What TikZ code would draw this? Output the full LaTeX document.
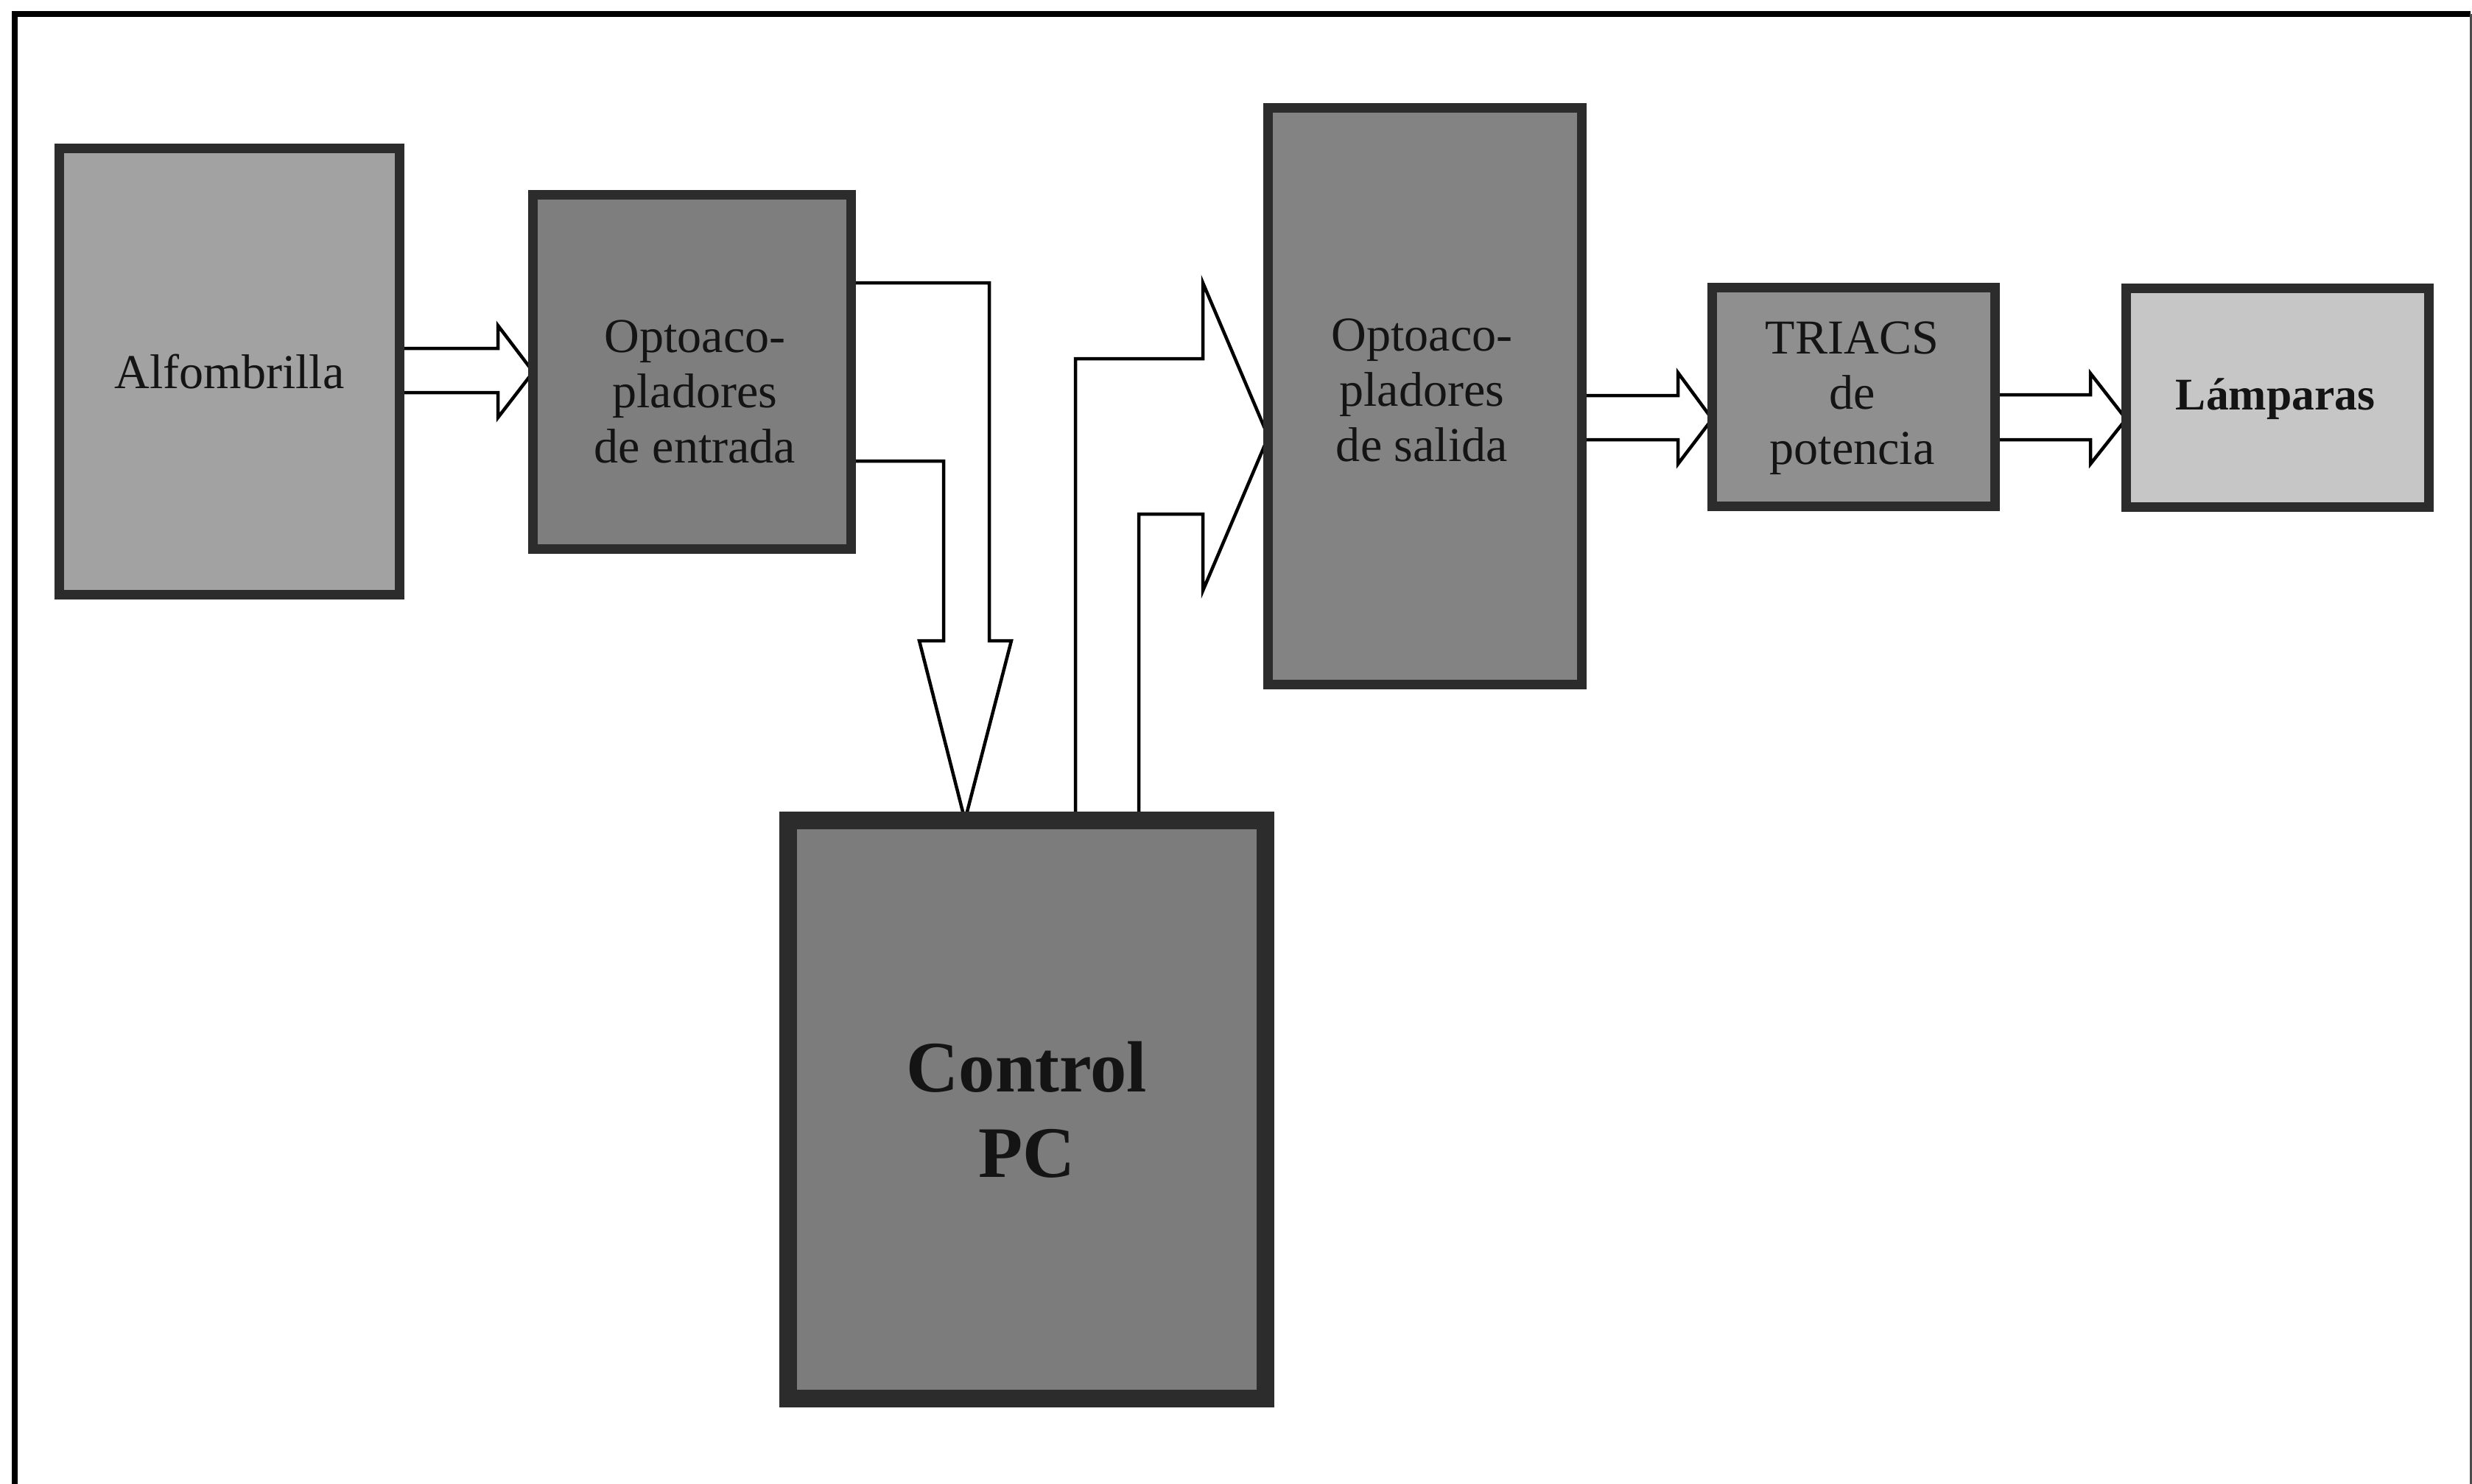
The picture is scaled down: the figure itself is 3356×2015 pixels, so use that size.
\documentclass[tikz,border=0pt]{standalone}
\usepackage{fontspec}
\setmainfont{Liberation Serif}
\usetikzlibrary{backgrounds,calc}
\definecolor{edgegray}{HTML}{2C2C2C}
\definecolor{alfgray}{HTML}{A2A2A2}
\definecolor{oingray}{HTML}{7E7E7E}
\definecolor{outgray}{HTML}{838383}
\definecolor{trigray}{HTML}{8F8F8F}
\definecolor{lamgray}{HTML}{C6C6C6}
\definecolor{pcgray}{HTML}{7C7C7C}
\definecolor{txt}{HTML}{141414}
\tikzset{
  blk/.style={draw=edgegray, line width=0.13cm, inner sep=0pt, outer sep=0pt},
  lbl/.style={font=\fontsize{18.8}{21.3}\selectfont, align=center, text=txt, inner sep=0pt},
  barrow/.style={draw=black, fill=white, line width=0.045cm, line join=miter},
  frameline/.style={draw=black, line width=0.07cm}
}
\begin{document}
\begin{tikzpicture}[x=0.01cm,y=-0.01cm]
\useasboundingbox (0,0) rectangle (3356,2015);
% frame
\draw[frameline] (20,2015) -- (20,19) -- (3354,19);
\draw[draw=black!70, line width=0.03cm] (3354,19) -- (3354,2015);
% boxes
\node[blk, fill=alfgray, minimum width=4.61cm, minimum height=6.05cm] (alf) at (311.5,504.5) {};
\node[blk, fill=oingray, minimum width=4.31cm, minimum height=4.80cm] (oin) at (939.5,505) {};
\node[blk, fill=outgray, minimum width=4.25cm, minimum height=7.82cm] (out) at (1934.5,538) {};
\node[blk, fill=trigray, minimum width=3.84cm, minimum height=2.97cm] (tri) at (2516.5,539) {};
\node[blk, fill=lamgray, minimum width=4.11cm, minimum height=2.97cm] (lam) at (3092,540) {};
\node[blk, fill=pcgray, line width=0.24cm, minimum width=6.48cm, minimum height=7.85cm] (pc) at (1394,1506.5) {};
% labels
\node[lbl] (alf-t) at (alf.center) {Alfombrilla};
\node[lbl] (oin-t) at ($(oin.center)+(4,27)$) {Optoaco-\\pladores\\de entrada};
\node[lbl] (out-t) at ($(out.center)+(-4,-8)$) {Optoaco-\\pladores\\de salida};
\node[lbl] (tri-t) at ($(tri.center)+(-2,2)$) {TRIACS\\de\\potencia};
\node[lbl, font=\bfseries\fontsize{17.5}{21}\selectfont] (lam-t) at ($(lam.center)+(-3,2)$) {Lámparas};
\node[lbl, font=\bfseries\fontsize{28}{33}\selectfont] (pc-t) at (pc.center) {Control\\PC};
% block arrows
\begin{pgfonlayer}{background}
\draw[barrow] (alf.east |- 0,473) -- (676,473) -- (676,442) -- (oin.west) -- (676,567) -- (676,533) -- (alf.east |- 0,533);
\draw[barrow] (oin.east |- 0,384) -- (1343,384) -- (1343,870) -- (1373,870) -- (1310,0 |- pc.north) -- (1248,870) -- (1281,870) -- (1281,626) -- (oin.east |- 0,626);
\draw[barrow] (1460,0 |- pc.north) -- (1460,487) -- (1633,487) -- (1633,384) -- (out.west |- 0,593) -- (1633,802) -- (1633,698) -- (1546,698) -- (1546,0 |- pc.north);
\draw[barrow] (out.east |- 0,537) -- (2278,537) -- (2278,506) -- (tri.west |- 0,569) -- (2278,630) -- (2278,597) -- (out.east |- 0,597);
\draw[barrow] (tri.east |- 0,536) -- (2838,536) -- (2838,507) -- (lam.west |- 0,569) -- (2838,630) -- (2838,597) -- (tri.east |- 0,597);
\end{pgfonlayer}
\end{tikzpicture}
\end{document}
